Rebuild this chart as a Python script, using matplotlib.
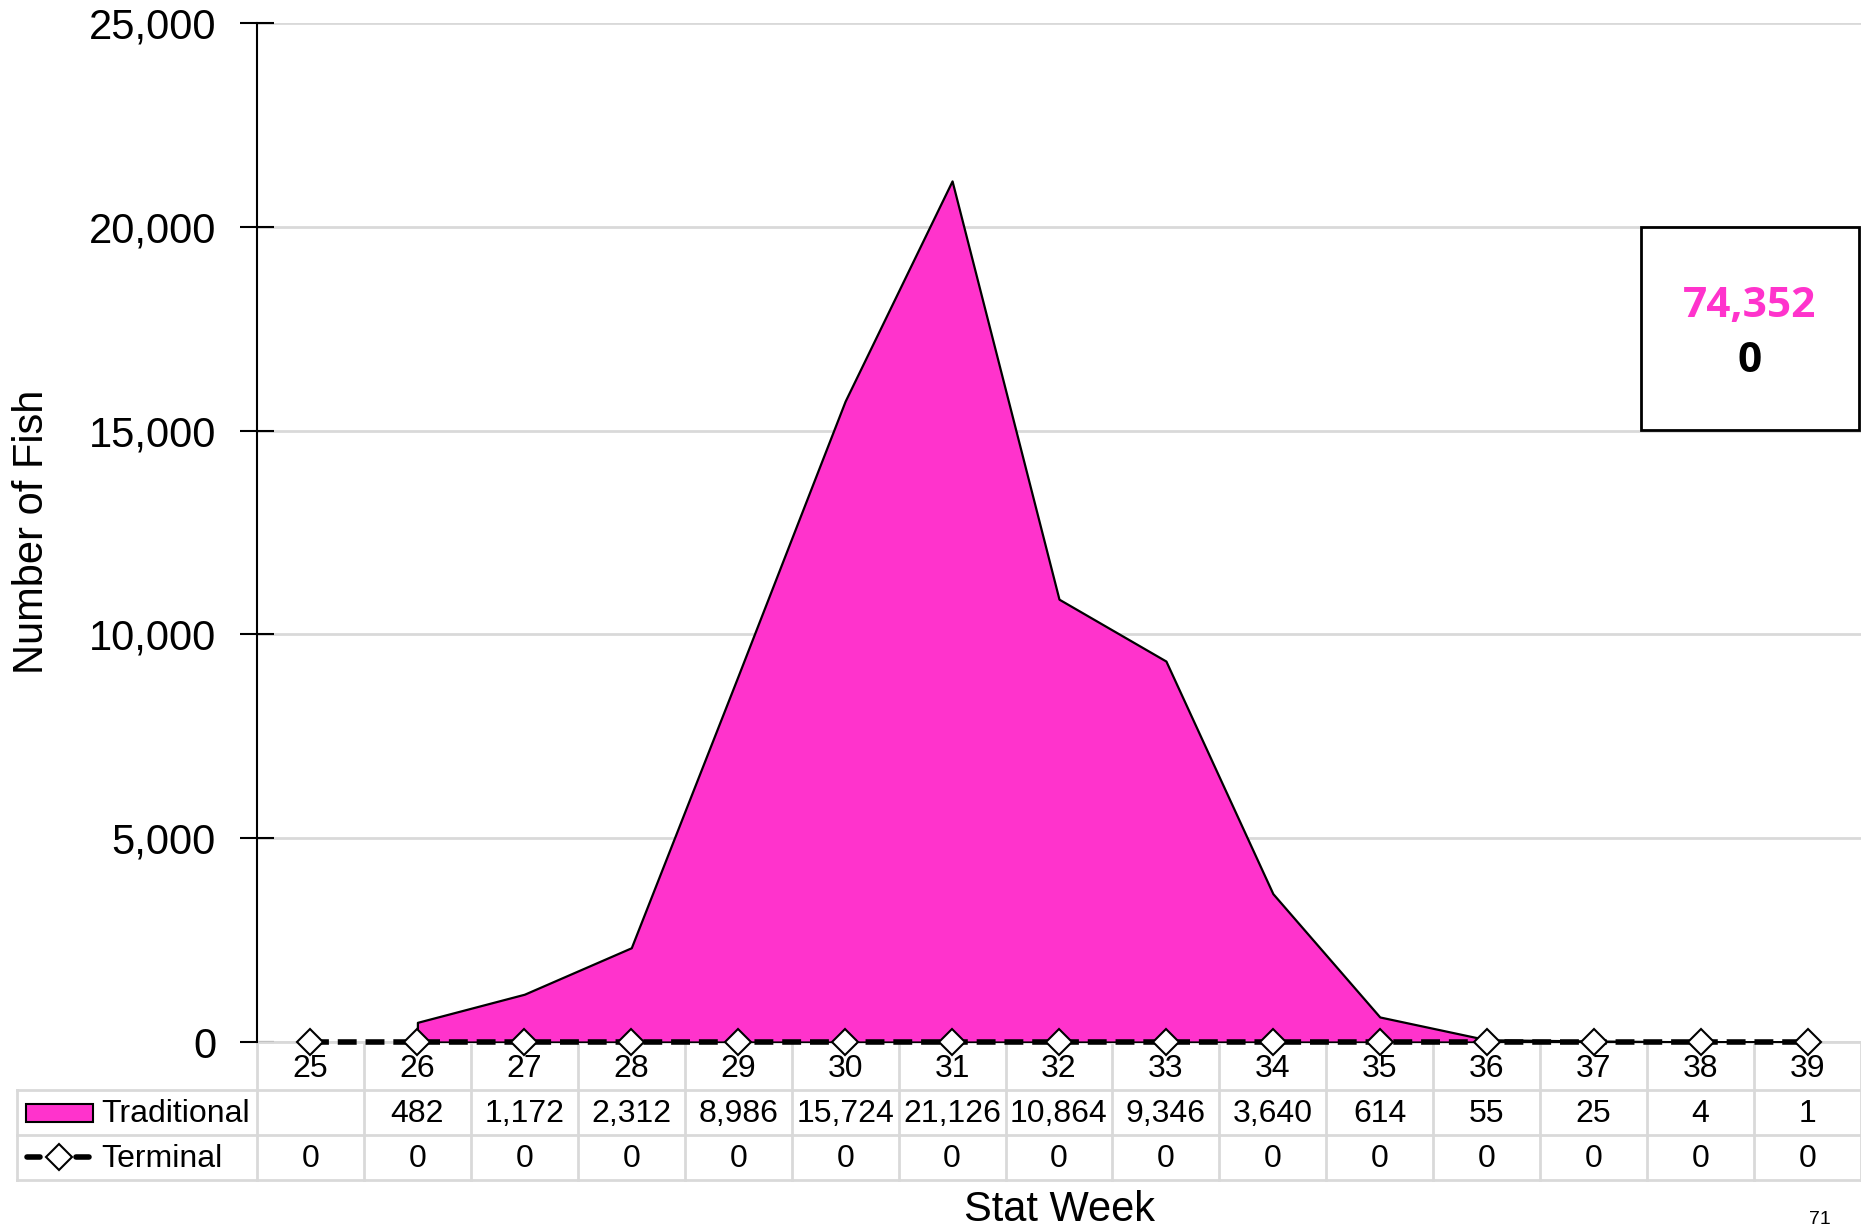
import numpy as np
import matplotlib.pyplot as plt
from matplotlib.patches import Rectangle
from matplotlib.transforms import blended_transform_factory

plt.rcParams["font.family"] = ["Liberation Sans", "DejaVu Sans"]

weeks = [25, 26, 27, 28, 29, 30, 31, 32, 33, 34, 35, 36, 37, 38, 39]
traditional = [None, 482, 1172, 2312, 8986, 15724, 21126, 10864, 9346, 3640, 614, 55, 25, 4, 1]
terminal = [0] * 15
total_trad = "74,352"
total_term = "0"

PINK = "#FF33CC"
GRID = "#D9D9D9"
W, H = 1861, 1231

fig = plt.figure(figsize=(W / 100, H / 100), dpi=100)
# axes placed in pixel terms: x 257..1861, y 23..1042
ax = fig.add_axes([257 / W, 1 - 1042 / H, 1 - 257 / W, (1042 - 23) / H])

def fy(py):
    return 1 - py / H

def fx(px):
    return px / W

# traditional area (week 25 blank)
tw = [w for w, v in zip(weeks, traditional) if v is not None]
tv = [v for v in traditional if v is not None]
ax.fill_between(tw, tv, 0, facecolor=PINK, edgecolor="black", linewidth=1.6, zorder=2)

# terminal line
line_kw = dict(color="black", linewidth=4, dashes=(3.4, 1.6), dash_capstyle="butt")
mark_kw = dict(marker="D", markersize=13.5, markerfacecolor="white",
               markeredgecolor="black", markeredgewidth=1.5)
ax.plot(weeks, terminal, zorder=4, clip_on=False, **line_kw, **mark_kw)

ax.set_xlim(24.5, 39.5)
ax.set_ylim(0, 25000)
ax.set_yticks(np.arange(0, 25001, 5000))
ax.yaxis.set_major_formatter(plt.FuncFormatter(lambda v, p: f"{int(v):,}"))
ax.tick_params(axis="y", direction="inout", length=25, width=1.5, labelsize=30, pad=17)
ax.set_xticks([])
ax.grid(axis="y", color=GRID, linewidth=2, zorder=0)
ax.set_axisbelow(True)
for s in ["top", "right", "bottom"]:
    ax.spines[s].set_visible(False)
ax.spines["left"].set_linewidth(1.5)

# data table beneath
trans = blended_transform_factory(ax.transData, fig.transFigure)
row_mid = [1069, 1114, 1159]
tkw = dict(transform=fig.transFigure, color=GRID, linewidth=2, clip_on=False, zorder=1)

# horizontal lines
ax.plot([fx(257), fx(W)], [fy(1042), fy(1042)], **tkw)
for py in [1090, 1135, 1180]:
    ax.plot([fx(17), fx(W)], [fy(py), fy(py)], **tkw)
ax.plot([fx(17), fx(17)], [fy(1090), fy(1180)], **tkw)
# vertical lines between weeks
for b in np.arange(24.5, 40, 1.0):
    ax.plot([b, b], [fy(1042), fy(1180)], transform=trans, color=GRID,
            linewidth=2, clip_on=False, zorder=1)

for w, tr, te in zip(weeks, traditional, terminal):
    ax.text(w, fy(row_mid[0]), str(w), transform=trans, ha="center", va="center", fontsize=23)
    if tr is not None:
        ax.text(w, fy(row_mid[1]), f"{tr:,}", transform=trans, ha="center", va="center", fontsize=23)
    ax.text(w, fy(row_mid[2]), f"{te:,}", transform=trans, ha="center", va="center", fontsize=23)

# legend keys in table
fig.add_artist(Rectangle((fx(26), fy(1122)), fx(93) - fx(26), fy(1104) - fy(1122),
                         facecolor=PINK, edgecolor="black", linewidth=1.5))
fig.text(fx(101), fy(row_mid[1]), "Traditional", ha="left", va="center", fontsize=23)
for x0, x1 in [(27, 40), (76, 89)]:
    ax.plot([fx(x0), fx(x1)], [fy(1157), fy(1157)], transform=fig.transFigure, color="black",
            linewidth=4, solid_capstyle="round", clip_on=False)
ax.plot([fx(59)], [fy(1157)], transform=fig.transFigure, clip_on=False, linestyle="none", **mark_kw)
fig.text(fx(101), fy(row_mid[2]), "Terminal", ha="left", va="center", fontsize=23)

# axis titles
fig.text(fx(1059), fy(1210), "Stat Week", ha="center", va="center", fontsize=30)
fig.text(fx(32), fy(532), "Number of Fish", ha="center", va="center", rotation=90, fontsize=30)
fig.text(fx(1820), fy(1220), "71", ha="center", va="center", fontsize=14)

# totals box
fig.add_artist(Rectangle((fx(1641), fy(430)), fx(1859) - fx(1641), fy(227) - fy(430),
                         facecolor="white", edgecolor="black", linewidth=2, zorder=5))
fig.text(fx(1750), fy(307), total_trad, ha="center", va="center", fontsize=30.5,
         fontweight="bold", color=PINK, family="Open Sans", zorder=6)
fig.text(fx(1750), fy(362), total_term, ha="center", va="center", fontsize=30.5,
         fontweight="bold", color="black", family="Open Sans", zorder=6)

fig.savefig("out.png", dpi=100)
